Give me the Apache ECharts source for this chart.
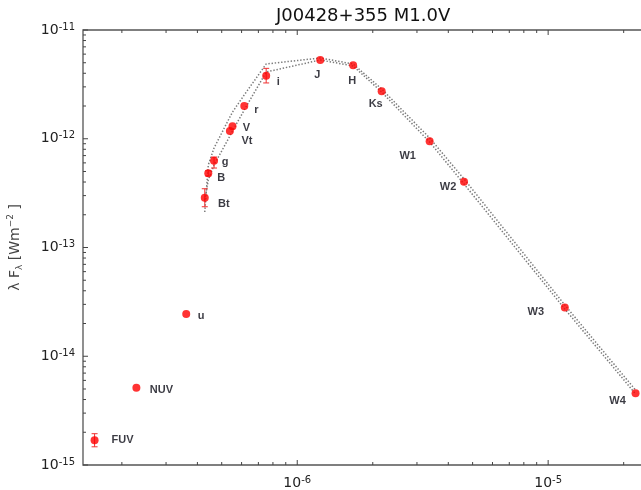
<!DOCTYPE html>
<html>
<head>
<meta charset="utf-8">
<script src="https://cdn.jsdelivr.net/npm/echarts@6/dist/echarts.min.js"></script>
<style>
html, body { margin: 0; padding: 0; background: #fff; }
#chart { width: 641px; height: 490px; }
</style>
</head>
<body>
<div id="chart"></div>
<script>
// Photometric bands and their effective wavelengths [m]
const bandNames = ['FUV', 'NUV', 'u', 'Bt', 'B', 'g', 'Vt', 'V', 'r', 'i', 'J', 'H', 'Ks', 'W1', 'W2', 'W3', 'W4'];
const bandWavelengths = [1.557e-7, 2.285e-7, 3.61e-7, 4.28e-7, 4.42e-7, 4.66e-7, 5.39e-7, 5.52e-7, 6.15e-7, 7.52e-7,
                         1.235e-6, 1.67e-6, 2.17e-6, 3.37e-6, 4.62e-6, 1.165e-5, 2.23e-5];
// Observed lambda*F_lambda [W m^-2]
const observedFlux = [1.69e-15, 5.14e-15, 2.45e-14, 2.87e-13, 4.81e-13, 6.28e-13, 1.18e-12, 1.30e-12, 2.0e-12, 3.80e-12,
                      5.30e-12, 4.73e-12, 2.73e-12, 9.46e-13, 4.03e-13, 2.80e-14, 4.56e-15];
// Error bar limits (null where no bar is drawn)
const fluxLow  = [1.47e-15, null, null, 2.37e-13, 4.55e-13, 5.38e-13, null, null, null, 3.26e-12,
                  null, null, null, null, null, null, null];
const fluxHigh = [1.94e-15, null, null, 3.47e-13, 5.08e-13, 6.79e-13, null, null, null, 4.44e-12,
                  null, null, null, null, null, null, null];

// Synthetic photometry of the two model atmospheres, Bt .. W4
const modelBands = ['Bt', 'B', 'g', 'Vt', 'V', 'r', 'i', 'J', 'H', 'Ks', 'W1', 'W2', 'W3', 'W4'];
const modelFluxA = [2.12e-13, 5.74e-13, 8.22e-13, 1.585e-12, 1.76e-12, 2.53e-12, 4.87e-12,
                    5.53e-12, 4.87e-12, 2.87e-12, 1.016e-12, 4.27e-13, 2.96e-14, 4.89e-15];
const modelFluxB = [2.73e-13, 4.18e-13, 5.74e-13, 1.06e-12, 1.178e-12, 1.84e-12, 4.11e-12,
                    5.30e-12, 4.67e-12, 2.69e-12, 9.33e-13, 3.84e-13, 2.72e-14, 4.50e-15];

// Axis ranges and labelled decades
const xRange = [1.4e-7, 2.5e-5];
const yRange = [1e-15, 1e-11];
const xMajorTicks = [1e-6, 1e-5];
const yMajorTicks = [1e-15, 1e-14, 1e-13, 1e-12, 1e-11];

// Minor ticks at 2..9 times each power of ten
function minorTicks(fromExp, toExp, lo, hi) {
  const out = [];
  for (let e = fromExp; e <= toExp; e++) {
    for (let m = 2; m <= 9; m++) {
      const v = m * Math.pow(10, e);
      if (v > lo && v < hi) out.push(v);
    }
  }
  return out;
}
const xMinorTicks = minorTicks(-7, -5, xRange[0], xRange[1]);
const yMinorTicks = minorTicks(-15, -12, yRange[0], yRange[1]);

// Offsets of each band label from its marker (px)
const labelOffsets = {
  FUV: [28, 0], NUV: [25, 2], u: [15, 2], Bt: [19, 6], B: [13, 5], g: [11, 1],
  Vt: [17, 10], V: [14, 2], r: [12, 4], i: [12, 6], J: [-3, 15], H: [-1, 16],
  Ks: [-6, 13], W1: [-22, 15], W2: [-16, 5], W3: [-29, 4], W4: [-18, 8]
};

const TICK_COLOR = '#444';
const MAJOR_LEN = 5, MINOR_LEN = 3;

function expLabel(v) {
  const l = Math.log10(v);
  const e = Math.round(l);
  if (Math.abs(l - e) > 1e-6) return '';
  return '{b|10}{s|' + e + '}';
}
const tickRich = {
  b: { fontFamily: 'DejaVu Sans', fontSize: 14, lineHeight: 16, color: '#222', verticalAlign: 'middle' },
  s: { fontFamily: 'DejaVu Sans', fontSize: 10, lineHeight: 10, color: '#222', verticalAlign: 'top' }
};

const pointData = bandNames.map((name, i) => ({
  name: name,
  value: [bandWavelengths[i], observedFlux[i]],
  label: { offset: labelOffsets[name] }
}));

const errData = [];
bandNames.forEach((name, i) => {
  if (fluxLow[i] != null) errData.push([bandWavelengths[i], fluxLow[i], fluxHigh[i]]);
});

function modelLine(values) {
  return modelBands.map((b, k) => [bandWavelengths[bandNames.indexOf(b)], values[k]]);
}

const xTickData = xMajorTicks.map(v => [v, yRange[0], MAJOR_LEN])
  .concat(xMinorTicks.map(v => [v, yRange[0], MINOR_LEN]));
const yTickData = yMajorTicks.map(v => [xRange[0], v, MAJOR_LEN])
  .concat(yMinorTicks.map(v => [xRange[0], v, MINOR_LEN]));

const tickStyle = { stroke: TICK_COLOR, lineWidth: 1 };
const modelStyle = { color: '#7a7a7a', width: 1.5, type: [1.4, 1.8] };

const chart = echarts.init(document.getElementById('chart'), null, { renderer: 'canvas' });
chart.setOption({
  animation: false,
  backgroundColor: '#fff',
  title: {
    text: 'J00428+355 M1.0V',
    left: 276, top: 7, padding: 0,
    textStyle: { fontFamily: 'DejaVu Sans', fontSize: 18, fontWeight: 'normal', color: '#111' }
  },
  grid: {
    left: 83, top: 30, width: 565, height: 435,
    outerBoundsMode: 'none', containLabel: false,
    show: true, borderColor: '#555', borderWidth: 1.3, backgroundColor: 'transparent'
  },
  xAxis: {
    type: 'log', min: xRange[0], max: xRange[1],
    axisLine: { show: false }, axisTick: { show: false }, splitLine: { show: false },
    axisLabel: { interval: 0, margin: 10, formatter: expLabel, rich: tickRich }
  },
  yAxis: {
    type: 'log', min: yRange[0], max: yRange[1],
    axisLine: { show: false }, axisTick: { show: false }, splitLine: { show: false },
    axisLabel: { interval: 0, margin: 8, formatter: expLabel, rich: tickRich },
    name: '{a|λ F}{sub|λ}{a| [Wm}{sup|−2}{a| ]}',
    nameLocation: 'middle', nameGap: 59,
    nameTextStyle: {
      rich: {
        a: { fontFamily: 'DejaVu Sans', fontSize: 14, lineHeight: 18, color: '#444', verticalAlign: 'middle' },
        sub: { fontFamily: 'DejaVu Sans', fontSize: 9, lineHeight: 10, color: '#444', verticalAlign: 'bottom' },
        sup: { fontFamily: 'DejaVu Sans', fontSize: 9, lineHeight: 10, color: '#444', verticalAlign: 'top' }
      }
    }
  },
  series: [
    {
      type: 'custom', name: 'x ticks', clip: false, silent: true, z: 5,
      data: xTickData, encode: { x: 0, y: 1 },
      renderItem: (params, api) => {
        const x = api.value(0), len = api.value(2);
        const b = api.coord([x, yRange[0]]);
        const t = api.coord([x, yRange[1]]);
        return { type: 'group', children: [
          { type: 'line', shape: { x1: b[0], y1: b[1], x2: b[0], y2: b[1] - len }, style: tickStyle },
          { type: 'line', shape: { x1: t[0], y1: t[1], x2: t[0], y2: t[1] + len }, style: tickStyle }
        ] };
      }
    },
    {
      type: 'custom', name: 'y ticks', clip: false, silent: true, z: 5,
      data: yTickData, encode: { x: 0, y: 1 },
      renderItem: (params, api) => {
        const y = api.value(1), len = api.value(2);
        const l = api.coord([xRange[0], y]);
        return { type: 'line', shape: { x1: l[0], y1: l[1], x2: l[0] + len, y2: l[1] }, style: tickStyle };
      }
    },
    {
      type: 'line', name: 'model A', data: modelLine(modelFluxA), symbol: 'none',
      lineStyle: modelStyle, z: 2, silent: true
    },
    {
      type: 'line', name: 'model B', data: modelLine(modelFluxB), symbol: 'none',
      lineStyle: modelStyle, z: 2, silent: true
    },
    {
      type: 'custom', name: 'errors', clip: false, silent: true, z: 3,
      data: errData, encode: { x: 0, y: [1, 2] },
      renderItem: (params, api) => {
        const x = api.value(0);
        const lo = api.coord([x, api.value(1)]);
        const hi = api.coord([x, api.value(2)]);
        const w = 3;
        const st = { stroke: '#f03030', lineWidth: 1 };
        return { type: 'group', children: [
          { type: 'line', shape: { x1: lo[0], y1: lo[1], x2: hi[0], y2: hi[1] }, style: st },
          { type: 'line', shape: { x1: lo[0] - w, y1: lo[1], x2: lo[0] + w, y2: lo[1] }, style: st },
          { type: 'line', shape: { x1: hi[0] - w, y1: hi[1], x2: hi[0] + w, y2: hi[1] }, style: st }
        ] };
      }
    },
    {
      type: 'scatter', name: 'photometry', data: pointData,
      symbol: 'circle', symbolSize: 8, z: 4,
      itemStyle: { color: '#ff0000' },
      label: {
        show: true, position: 'inside', formatter: '{b}',
        fontFamily: 'Liberation Sans', fontWeight: 'bold', fontSize: 11, color: '#0a0a14'
      }
    }
  ]
});
</script>
</body>
</html>
